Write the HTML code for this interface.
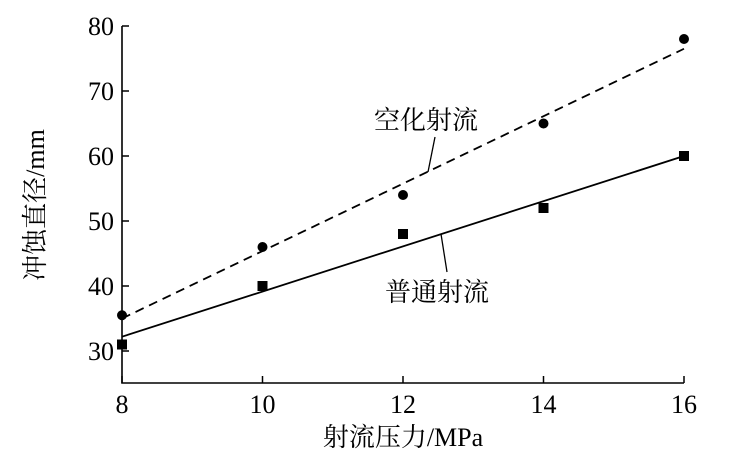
<!DOCTYPE html>
<html><head><meta charset="utf-8"><style>
body{margin:0;background:#fff}
svg text{font-family:"Liberation Serif","Noto Serif CJK SC",serif;fill:#000}
</style></head><body>
<svg width="731" height="464" id="c"></svg>
<script>
const xTicks=[8,10,12,14,16];
const yTicks=[30,40,50,60,70,80];
const pressure=[8,10,12,14,16];
const cavitation=[35.5,46,54,65,78];
const ordinary=[31,40,48,52,60];
const cavFit=[35,76.5];
const ordFit=[32.2,60];
const NS="http://www.w3.org/2000/svg";
const svg=document.getElementById('c');
const X=v=>122+(v-8)*(684-122)/8;
const Y=v=>351-(v-30)*6.5;
function el(t,a){const e=document.createElementNS(NS,t);for(const k in a)e.setAttribute(k,a[k]);svg.appendChild(e);return e;}
let e=el('path',{d:`M122,26V383H684`,fill:'none',stroke:'#000','stroke-width':1.6});


xTicks.forEach(t=>{let l=el('line',{x1:X(t),x2:X(t),y1:383,y2:376,stroke:'#000','stroke-width':1.5});


let tx=el('text',{x:X(t),y:413,'text-anchor':'middle','font-size':26});tx.textContent=t;

});
yTicks.forEach(t=>{let l=el('line',{x1:122,x2:129,y1:Y(t),y2:Y(t),stroke:'#000','stroke-width':1.5});


let tx=el('text',{x:114,y:Y(t)+9,'text-anchor':'end','font-size':26});tx.textContent=t;

});
let f1=el('line',{x1:X(8),y1:Y(cavFit[0]),x2:X(16),y2:Y(cavFit[1]),stroke:'#000','stroke-width':1.8,'stroke-dasharray':'9,6'});


let f2=el('line',{x1:X(8),y1:Y(ordFit[0]),x2:X(16),y2:Y(ordFit[1]),stroke:'#000','stroke-width':1.8});


pressure.forEach((p,i)=>{let c=el('circle',{cx:X(p),cy:Y(cavitation[i]),r:5});


let r=el('rect',{x:X(p)-5,y:Y(ordinary[i])-5,width:10,height:10});

});
let a1=el('line',{x1:435,y1:137,x2:428,y2:172,stroke:'#000','stroke-width':1.3});


let a2=el('line',{x1:447,y1:272,x2:441,y2:234,stroke:'#000','stroke-width':1.3});


let t1=el('text',{x:374,y:129,'font-size':26});t1.textContent='空化射流';


let t2=el('text',{x:385,y:301,'font-size':26});t2.textContent='普通射流';


let xt=el('text',{x:403,y:446,'text-anchor':'middle','font-size':26});xt.textContent='射流压力/MPa';


let yt=el('text',{x:0,y:0,'text-anchor':'middle','font-size':26,transform:'translate(44,205) rotate(-90)'});yt.textContent='冲蚀直径/mm';


</script>
</body></html>
